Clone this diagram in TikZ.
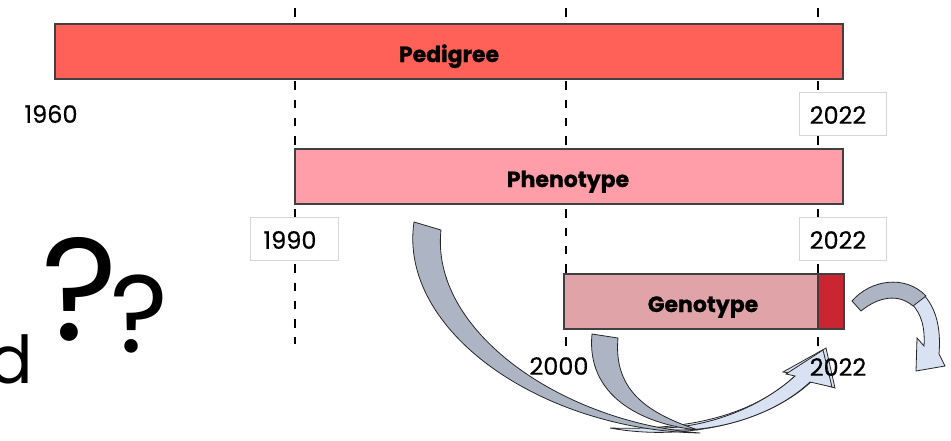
\documentclass[tikz,border=0pt]{standalone}
\usepackage{fontspec}
\setmainfont{Poppins}
\newfontfamily\yearfont[FakeBold=0.5]{Poppins}
\newfontfamily\labfont[FakeBold=0.8]{Poppins Bold}
\definecolor{pedc}{HTML}{FF6159}
\definecolor{phec}{HTML}{FF9EA8}
\definecolor{genc}{HTML}{E0A4A8}
\definecolor{gendk}{HTML}{CC2532}
\definecolor{arrgray}{HTML}{ADB5C4}
\definecolor{arrlight}{HTML}{D9E2F3}
\definecolor{edgec}{HTML}{404040}
\definecolor{boxedge}{HTML}{D6D6D6}
\tikzset{
  dashline/.style={line width=2.5pt, dash pattern=on 8.5pt off 9.8pt},
  barbox/.style={draw=edgec, line width=1.2pt, inner sep=0pt, rectangle},
  yearbox/.style={draw=boxedge, fill=white, line width=0.8pt, inner sep=0pt, rectangle},
  yeartxt/.style={inner sep=0pt, font=\yearfont\fontsize{24}{24}\selectfont},
  bartxt/.style={inner sep=0pt, anchor=base, font=\labfont\fontsize{22}{22}\selectfont},
  arrgr/.style={fill=arrgray, draw=black!85, line width=0.8pt, line join=round},
  arrlt/.style={fill=arrlight, draw=black!85, line width=0.8pt, line join=miter},
}
\begin{document}
\begin{tikzpicture}[x=1pt,y=-1pt]
\useasboundingbox (0,0) rectangle (951,440);
\clip (0,0) rectangle (951,440);

% dashed guide lines
\coordinate (g1t) at (295,8);  \coordinate (g1b) at (295,344);
\coordinate (g2t) at (566,8);  \coordinate (g2b) at (566,346);
\coordinate (g3t) at (818,8);  \coordinate (g3b) at (818,350);
\draw[dashline] (g1t) -- (g1b);
\draw[dashline] (g2t) -- (g2b);
\draw[dashline] (g3t) -- (g3b);

% year boxes
\node[yearbox, minimum width=87pt, minimum height=43pt] (yb1) at (842.5,113.5) {};
\node[yearbox, minimum width=88pt, minimum height=43pt] (yb2) at (294,238.5) {};
\node[yearbox, minimum width=87pt, minimum height=43pt] (yb3) at (842.5,238.5) {};

% bars
\node[barbox, fill=pedc, minimum width=788pt, minimum height=55pt] (ped) at (449,51.5) {};
\node[barbox, fill=phec, minimum width=548pt, minimum height=55pt] (phe) at (569,176.5) {};
\node[barbox, fill=genc, minimum width=254pt, minimum height=55pt] (gen) at (691,301.5) {};
\node[barbox, fill=gendk, minimum width=26pt, minimum height=55pt] (gdk) at (831,301.5) {};

\node[bartxt] (pedt) at (449,62) {Pedigree};
\node[bartxt] (phet) at (568,187) {Phenotype};
\node[bartxt] (gent) at (703,312) {Genotype};

% curved arrows
% A1 light
\path[arrlt] (610,428) .. controls (680,441) and (765,425) .. (812,381) -- (835,388) -- (826,348) -- (783,372) -- (797,374)
  .. controls (760,410) and (700,431) .. (610,428) -- cycle;
% A2 light
\path[arrlt] (655,428) .. controls (700,436) and (770,420) .. (810,382) -- (832,387) -- (823,350) -- (786,374) -- (795,376)
  .. controls (760,408) and (705,429) .. (655,428) -- cycle;
% A1 gray
\path[arrgr] (414,222) .. controls (398,330) and (540,430) .. (700,433)
  .. controls (560,422) and (430,330) .. (441,230) -- cycle;
% A2 gray
\path[arrgr] (592,334) .. controls (586,395) and (640,424) .. (698,430)
  .. controls (650,414) and (613,392) .. (618,338) -- cycle;
% A3 light
\path[arrlt] (922,293) .. controls (937,308) and (941,330) .. (939,354) -- (945,366) -- (916,371) -- (917,338) -- (924,346)
  .. controls (925,328) and (922,315) .. (912,304) -- cycle;
% A3 gray
\path[arrgr] (852,301) .. controls (870,280) and (905,274) .. (926,296)
  -- (913,306) .. controls (898,293) and (878,297) .. (861,311) -- cycle;

% year labels
\node[yeartxt] (y1960) at (51,114) {1960};
\node[yeartxt] (y2022a) at (838,115) {2022};
\node[yeartxt] (y1990) at (290,240) {1990};
\node[yeartxt] (y2022b) at (838,240) {2022};
\node[yeartxt] (y2000) at (559,366) {2000};
\node[yeartxt] (y2022c) at (838,367) {2022};

% left fragment and question marks
\node[inner sep=0pt, anchor=base east, font=\fontsize{66}{66}\selectfont] (dd) at (33,383) {d};
\node[inner sep=0pt, anchor=base, font=\fontsize{146}{146}\selectfont] (q1) at (80,340) {?};
\node[inner sep=0pt, anchor=base, font=\fontsize{110}{110}\selectfont] (q2) at (139,352) {?};
\end{tikzpicture}
\end{document}
